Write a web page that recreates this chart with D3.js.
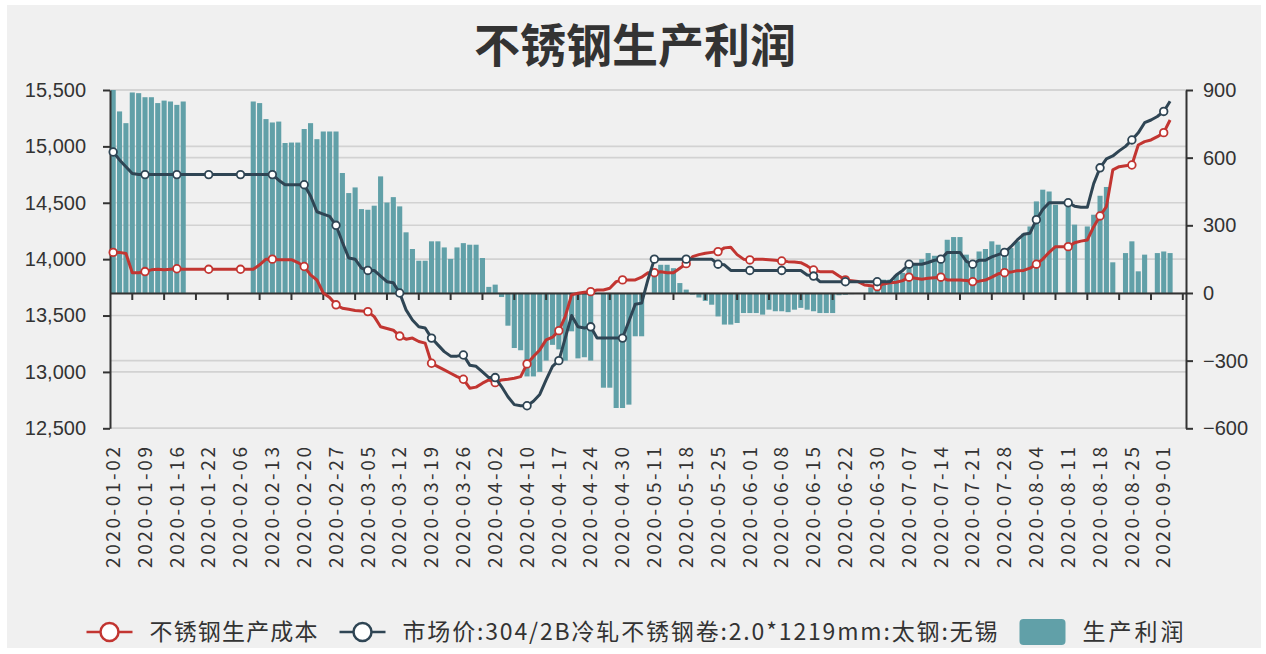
<!DOCTYPE html>
<html>
<head>
<meta charset="utf-8">
<script src="https://cdn.jsdelivr.net/npm/d3@7"></script>
<style>
  body { margin: 0; background: #fff; }
  svg { display: block; font-family: "Microsoft YaHei", "Noto Sans CJK SC", sans-serif; }
  .axis text { fill: #333; font-size: 20px; }
  .axis path, .axis line { stroke: #333; stroke-width: 2; }
</style>
</head>
<body>
<svg width="1266" height="654"></svg>
<script>
// Trading days (month-day), 2020
const days = [
  "01-02","01-03","01-06","01-07","01-08","01-09","01-10","01-13","01-14","01-15","01-16","01-17","01-19","01-20","01-21","01-22","01-23",
  "02-03","02-04","02-05","02-06","02-07","02-10","02-11","02-12","02-13","02-14","02-17","02-18","02-19","02-20","02-21","02-24","02-25","02-26","02-27","02-28",
  "03-02","03-03","03-04","03-05","03-06","03-09","03-10","03-11","03-12","03-13","03-16","03-17","03-18","03-19","03-20","03-23","03-24","03-25","03-26","03-27","03-30","03-31",
  "04-01","04-02","04-03","04-07","04-08","04-09","04-10","04-13","04-14","04-15","04-16","04-17","04-20","04-21","04-22","04-23","04-24","04-26","04-27","04-28","04-29","04-30",
  "05-06","05-07","05-08","05-09","05-11","05-12","05-13","05-14","05-15","05-18","05-19","05-20","05-21","05-22","05-25","05-26","05-27","05-28","05-29",
  "06-01","06-02","06-03","06-04","06-05","06-08","06-09","06-10","06-11","06-12","06-15","06-16","06-17","06-18","06-19","06-22","06-23","06-24","06-28","06-29","06-30",
  "07-01","07-02","07-03","07-06","07-07","07-08","07-09","07-10","07-13","07-14","07-15","07-16","07-17","07-20","07-21","07-22","07-23","07-24","07-27","07-28","07-29","07-30","07-31",
  "08-03","08-04","08-05","08-06","08-07","08-10","08-11","08-12","08-13","08-14","08-17","08-18","08-19","08-20","08-21","08-24","08-25","08-26","08-27","08-28","08-31",
  "09-01","09-02","09-03","09-04"
];
const dates = days.map(d => "2020-" + d);

// 不锈钢生产成本 (left axis)
const cost = [
  14060,14060,14050,13880,13880,13890,13905,13910,13905,13910,13915,13910,13910,13910,13910,13910,13910,13910,13910,13910,
  13910,13910,13910,13950,14000,14000,13995,13995,13995,13970,13935,13860,13815,13700,13660,13595,13565,13555,13545,13540,
  13535,13490,13400,13385,13370,13318,13290,13300,13270,13255,13077,13047,13018,12988,12958,12935,12856,12865,12900,12929,
  12905,12929,12935,12944,12958,13071,13136,13195,13284,13308,13366,13491,13683,13698,13707,13712,13727,13727,13742,13801,
  13816,13816,13816,13840,13880,13880,13889,13880,13880,13920,13960,14022,14040,14052,14060,14067,14100,14105,14040,14000,
  13993,13999,13999,13995,13990,13984,13978,13975,13969,13940,13904,13889,13889,13889,13850,13816,13808,13801,13771,13765,
  13756,13780,13790,13795,13810,13840,13830,13822,13831,13835,13840,13816,13816,13816,13810,13801,13805,13815,13840,13870,
  13880,13885,13898,13900,13920,13955,14000,14060,14111,14111,14111,14146,14160,14170,14288,14383,14466,14791,14820,14828,
  14835,15012,15042,15057,15086,15122,15234,null,null
];

// 市场价:304/2B冷轧不锈钢卷 (left axis)
const price = [
  14950,14880,14820,14760,14750,14750,14750,14750,14750,14750,14750,14750,14750,14750,14750,14750,14750,14750,14750,14750,
  14750,14750,14750,14750,14750,14750,14700,14660,14660,14660,14660,14560,14420,14400,14380,14300,14150,14010,14000,13920,
  13900,13900,13850,13800,13790,13700,13550,13460,13400,13390,13300,13240,13180,13140,13140,13150,13060,13050,13000,12950,
  12950,12870,12780,12710,12700,12700,12740,12800,12930,13050,13100,13300,13500,13400,13390,13400,13300,13300,13300,13300,
  13300,13450,13600,13610,13820,14000,14000,14000,14000,14000,14000,14000,14000,14000,14000,13955,13950,13900,13900,13900,
  13900,13900,13900,13900,13900,13900,13900,13900,13900,13860,13850,13800,13800,13800,13800,13800,13800,13800,13800,13800,
  13800,13800,13800,13860,13900,13955,13955,13955,13970,13990,14000,14060,14060,14060,13980,13955,13990,13990,14020,14040,
  14060,14110,14170,14220,14230,14350,14440,14500,14500,14500,14500,14470,14460,14460,14670,14810,14890,14915,14960,15000,
  15057,15120,15210,15234,15265,15310,15400,null,null
];

// 生产利润 (right axis)
const profit = [
  900,805,753,889,886,868,868,842,853,849,834,849,null,null,null,null,null,null,null,null,
  null,null,849,842,771,756,760,665,667,667,727,753,682,716,716,716,532,443,468,372,
  369,387,517,401,425,384,269,195,143,143,229,229,202,151,202,221,214,214,155,27,
  37,-18,-145,-244,-254,-370,-370,-350,-300,-230,-250,-300,-170,-290,-285,-300,null,-420,-420,-510,
  -510,-495,-192,-192,null,96,125,125,110,44,15,-7,-20,-35,-52,-104,-140,-140,-133,-89,
  -89,-89,-96,-74,-81,-81,-85,-74,-66,-74,-81,-89,-89,-89,-10,-8,-5,-3,null,25,
  40,59,59,80,89,110,125,150,177,165,162,236,248,248,170,140,184,195,229,214,
  192,199,229,263,295,406,458,450,391,null,391,303,null,295,347,431,470,136,null,177,
  229,96,170,null,177,184,177,null,null
];

const leftTicks = [12500, 13000, 13500, 14000, 14500, 15000, 15500];
const rightTicks = [-600, -300, 0, 300, 600, 900];
const names = ["不锈钢生产成本", "市场价:304/2B冷轧不锈钢卷:2.0*1219mm:太钢:无锡", "生产利润"];
const colors = ["#c23531", "#2f4554", "#61a0a8"];

const W = 1266, H = 654;
const plot = { left: 110, right: 1186, top: 90, bottom: 428.3 };

const svg = d3.select("svg");

// background panel
svg.append("rect")
    .attr("x", 7).attr("y", 5)
    .attr("width", W - 12).attr("height", H - 11)
    .attr("fill", "#f0f0f0");

// Title
svg.append("text")
    .attr("x", W / 2 + 2)
    .attr("y", 62)
    .attr("text-anchor", "middle")
    .style("font-size", "46px")
    .style("font-weight", "bold")
    .attr("fill", "#333")
    .text("不锈钢生产利润");

// Scales
const x = d3.scaleBand().domain(dates).range([plot.left, plot.right]).padding(0);
const bw = x.bandwidth();
const cx = d => x(d) + bw / 2;
const yL = d3.scaleLinear().domain([12500, 15500]).range([plot.bottom, plot.top]);
const yR = d3.scaleLinear().domain([-600, 900]).range([plot.bottom, plot.top]);

// Grid lines for both axes
const grid = svg.append("g").attr("stroke", "#d2d2d2").attr("stroke-width", 1.6);
grid.selectAll(".gl").data(leftTicks).enter().append("line")
    .attr("x1", plot.left).attr("x2", plot.right)
    .attr("y1", d => yL(d)).attr("y2", d => yL(d));
grid.selectAll(".gr").data(rightTicks).enter().append("line")
    .attr("x1", plot.left).attr("x2", plot.right)
    .attr("y1", d => yR(d)).attr("y2", d => yR(d));

// Bars
const barW = bw * 0.8;
svg.append("g").selectAll("rect")
    .data(profit.map((v, i) => ({ d: dates[i], v })).filter(p => p.v != null))
  .enter().append("rect")
    .attr("x", p => cx(p.d) - barW / 2)
    .attr("width", barW)
    .attr("y", p => Math.min(yR(p.v), yR(0)))
    .attr("height", p => Math.abs(yR(p.v) - yR(0)))
    .attr("fill", colors[2]);

// Y axes
svg.append("g")
    .attr("class", "axis")
    .attr("transform", `translate(${plot.left},0)`)
    .call(d3.axisLeft(yL).tickValues(leftTicks).tickFormat(d3.format(",")).tickSize(7).tickPadding(17).tickSizeOuter(0));

svg.append("g")
    .attr("class", "axis")
    .attr("transform", `translate(${plot.right},0)`)
    .call(d3.axisRight(yR).tickValues(rightTicks).tickSize(7).tickPadding(10).tickSizeOuter(0));

// X axis line on the zero of the right axis
svg.append("g")
    .attr("class", "axis")
    .attr("transform", `translate(0,${yR(0)})`)
    .call(d3.axisBottom(x).tickValues(dates.filter((d, i) => i % 5 === 3)).tickSize(7).tickSizeOuter(0).tickFormat(""));

// X labels at the bottom, rotated
svg.append("g").selectAll("text")
    .data(dates.filter((d, i) => i % 5 === 0))
  .enter().append("text")
    .attr("transform", d => `translate(${cx(d)},447) rotate(-90)`)
    .attr("text-anchor", "end")
    .attr("dy", "0.35em")
    .attr("fill", "#333")
    .attr("textLength", 121)
    .attr("lengthAdjust", "spacing")
    .style("font-size", "19px")
    .text(d => d);

// Lines
const lineGen = d3.line()
    .defined(p => p.v != null)
    .x(p => cx(p.d))
    .y(p => yL(p.v));

[cost, price].forEach((vals, k) => {
    const pts = vals.map((v, i) => ({ d: dates[i], v, i }));
    svg.append("path")
        .datum(pts)
        .attr("fill", "none")
        .attr("stroke", colors[k])
        .attr("stroke-width", 3)
        .attr("stroke-linejoin", "round")
        .attr("d", lineGen);
    svg.append("g").selectAll("circle")
        .data(pts.filter(p => p.v != null && p.i % 5 === 0))
      .enter().append("circle")
        .attr("cx", p => cx(p.d))
        .attr("cy", p => yL(p.v))
        .attr("r", 3.8)
        .attr("fill", "#fff")
        .attr("stroke", colors[k])
        .attr("stroke-width", 1.8);
});

// Legend
const textWidths = [168, 595, 101];
const legend = svg.append("g");
let lx = 0;
names.forEach((name, k) => {
    const g = legend.append("g").attr("transform", `translate(${lx},0)`);
    if (k < 2) {
        g.append("line").attr("x1", 0).attr("x2", 46).attr("y1", 0).attr("y2", 0)
            .attr("stroke", colors[k]).attr("stroke-width", 2.5);
        g.append("circle").attr("cx", 23).attr("cy", 0).attr("r", 9)
            .attr("fill", "#fff").attr("stroke", colors[k]).attr("stroke-width", 2.5);
    } else {
        g.append("rect").attr("x", 0).attr("y", -13).attr("width", 46).attr("height", 26)
            .attr("rx", 4).attr("fill", colors[k]);
    }
    g.append("text").attr("x", 63).attr("dy", "0.35em")
        .attr("fill", "#333").style("font-size", "23px")
        .attr("textLength", textWidths[k]).attr("lengthAdjust", "spacing")
        .text(name);
    lx += 63 + textWidths[k] + 22;
});
const legendW = lx - 22;
legend.attr("transform", `translate(${(W - legendW) / 2 + 2},632)`);
</script>
</body>
</html>
